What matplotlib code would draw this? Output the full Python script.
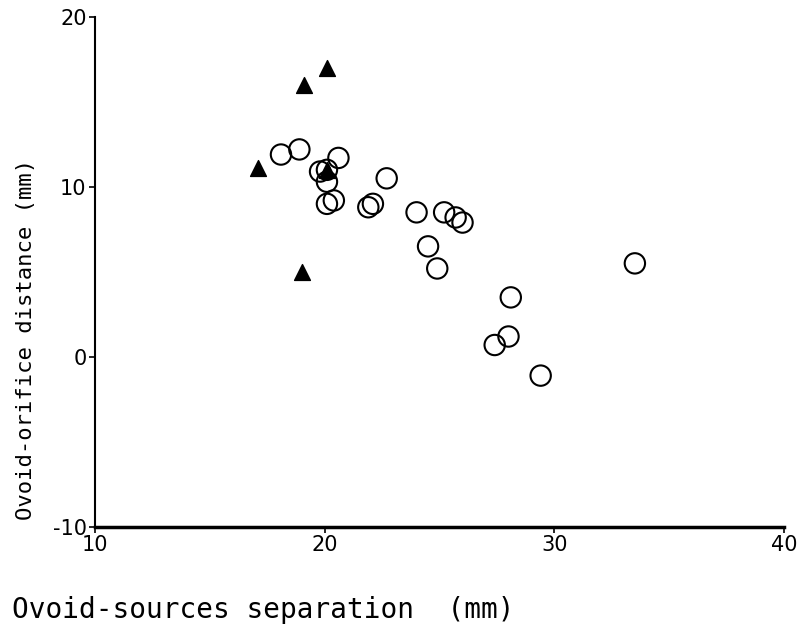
import matplotlib
matplotlib.use("Agg")
import matplotlib.pyplot as plt

# separacao ovoide-fontes (mm) x distancia ovoide-orificio (mm)
circulo_x = [18.1, 18.9, 19.8, 20.1, 20.1, 20.6, 20.1, 20.4, 21.9, 22.1, 22.7,
             24.0, 25.2, 25.7, 26.0, 24.5, 24.9, 33.5, 28.1, 28.0, 27.4, 29.4]
circulo_y = [11.9, 12.2, 10.9, 11.0, 10.3, 11.7, 9.0, 9.2, 8.8, 9.0, 10.5,
             8.5, 8.5, 8.2, 7.9, 6.5, 5.2, 5.5, 3.5, 1.2, 0.7, -1.1]
triangulo_x = [20.1, 19.1, 17.1, 19.0, 20.1]
triangulo_y = [17.0, 16.0, 11.1, 5.0, 11.0]

xticks = [10, 20, 30, 40]
yticks = [-10, 0, 10, 20]

fig = plt.figure(figsize=(7.97, 6.33), dpi=100)
ax = fig.add_axes([0.119, 0.1675, 0.865, 0.806])

ax.scatter(circulo_x, circulo_y, s=215, facecolors='none', edgecolors='black',
           linewidths=1.5, zorder=3)
ax.scatter(triangulo_x, triangulo_y, s=130, marker='^', color='black', zorder=4)

ax.set_xlim(10, 40)
ax.set_ylim(-10, 20)
ax.set_xticks(xticks)
ax.set_yticks(yticks)

ax.set_xticklabels([str(t) for t in xticks], family='DejaVu Sans', fontsize=15)
ax.set_yticklabels([str(t) for t in yticks], family='DejaVu Sans', fontsize=15)
ax.tick_params(direction='out', length=4, width=1.2, pad=2)

ax.spines['top'].set_visible(False)
ax.spines['right'].set_visible(False)
ax.spines['left'].set_linewidth(1.5)
ax.spines['bottom'].set_linewidth(2.5)

fig.text(0.015, 0.015, 'Ovoid-sources separation  (mm)', family='DejaVu Sans Mono',
         fontsize=20, ha='left', va='bottom')
fig.text(0.032, 0.463, 'Ovoid-orifice distance (mm)', family='DejaVu Sans Mono',
         fontsize=16, rotation=90, ha='center', va='center')

fig.savefig('out.png', dpi=100)
